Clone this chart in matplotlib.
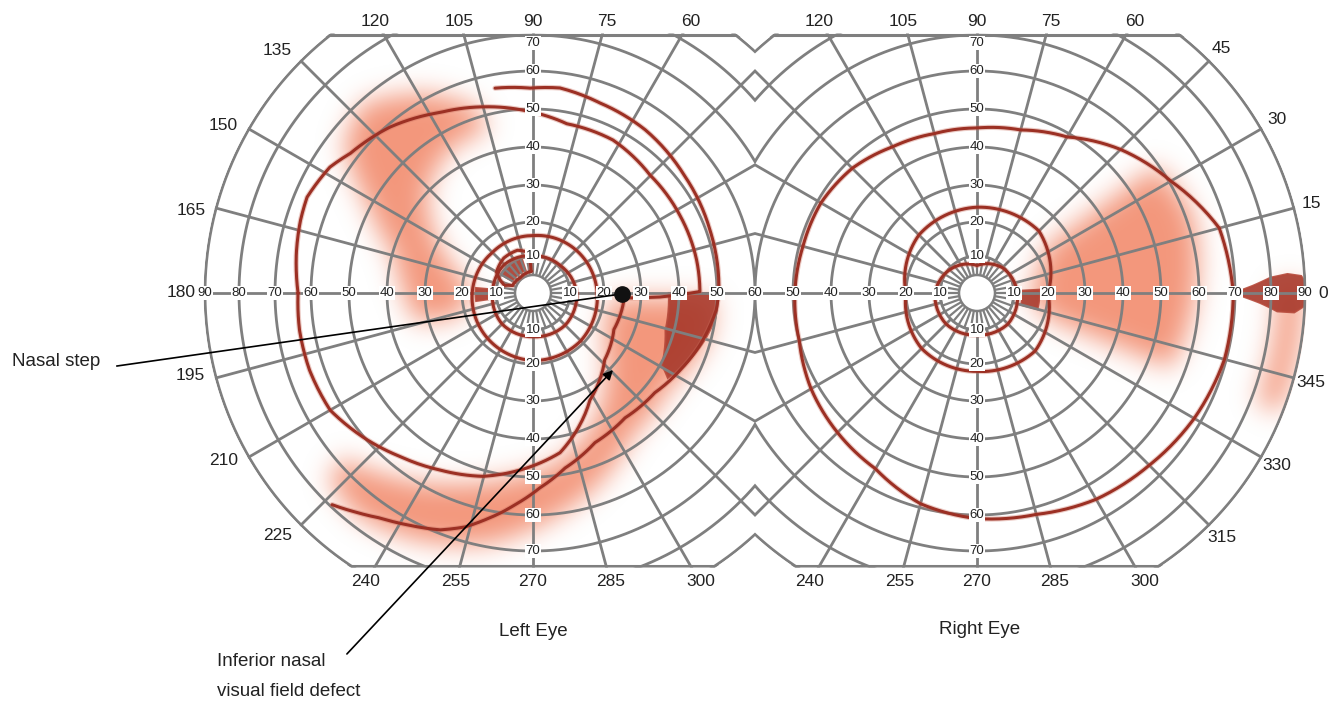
import numpy as np
import matplotlib.pyplot as plt
from matplotlib.path import Path
from matplotlib.patches import Polygon, Circle

plt.rcParams['font.family'] = ['Liberation Sans', 'DejaVu Sans']

# chart radial scale: eccentricity (deg) -> radius on the chart (px)
ECC = [0, 5, 10, 20, 30, 40, 50, 60, 70, 80, 90]
RAD = [0, 18, 37, 71, 108, 146, 184, 222, 258, 294, 328]

# ---- left eye isopters: (meridian deg, eccentricity deg)
left_outer_ang = [100.5, 90.8, 82.5, 70.6, 55.5, 37.8, 19.6, 1, -5.3, -17.3, -27.6, -39.3, -53.6,
                  -67.5, -79.6, -88, -95, -101, -106.2, -111.4, -118, -124.2, -129.1, -133.5]
left_outer_ecc = [56.4, 55.5, 56, 54.6, 53.7, 52, 51, 50.5, 50, 47.6, 45.3, 43, 42.4,
                  44.2, 48.4, 52.9, 57.6, 62, 66, 69, 71.4, 73.9, 76.7, 79.4]

left_mid_ang = [180, 170.4, 162.6, 157, 148.2, 142.6, 130.7, 117.2, 105, 91.9, 78.7, 62.4, 45.2, 28, 11.4, 0.5,
                -1.8, -3.1, -24.3, -43, -62, -80.4, -94.2, -105.3, -117.7, -129, -140.6, -150, -161, -171, -180]
left_mid_ecc = [63.6, 65, 66, 66.5, 64.7, 62.2, 59.2, 55, 52.3, 49.5, 47, 47, 45.3, 45.3, 45.5, 45.5,
                35, 25.5, 24.8, 27.3, 33.5, 44.2, 48.3, 51.6, 54.2, 57, 60.5, 63.4, 64, 64, 63.6]

left_r20_ang = [0, 45, 90, 135, 180, 225, 270, 315, 360]
left_r20_ecc = [18, 17, 16, 16, 17, 18, 19, 19, 18]
left_r10_ang = [0, 45, 90, 135, 180, 225, 270, 315, 360]
left_r10_ecc = [12, 10.5, 10, 11, 11, 12, 12, 12.5, 12]
left_loop_ang = [95, 95, 110, 130, 150, 165, 160, 130, 95]
left_loop_ecc = [6, 11, 12.5, 12.5, 11.5, 8, 6, 5.5, 6]

# ---- right eye isopters
right_outer_ang = [0, 15, 30, 45, 60, 75, 90, 105, 120, 135, 150, 165, 180, 195, 210, 225, 240, 255,
                   270, 285, 300, 315, 330, 345, 360]
right_outer_ecc = [69.5, 68, 60.5, 55, 49, 46, 45, 45, 46, 48, 49, 49, 49.5, 50, 52, 53.5, 55, 59,
                   61, 62, 64.5, 66, 68, 69.5, 69.5]
right_r20_ang = [0, 45, 90, 135, 180, 225, 270, 315, 360]
right_r20_ecc = [20, 24.5, 24, 23, 20, 22, 22, 23, 20]
right_r10_ang = [0, 45, 90, 135, 180, 225, 270, 315, 360]
right_r10_ecc = [11, 9.7, 7.5, 9.5, 11.5, 12, 11.5, 12, 11]

# ---- dense (dark) defects, polygons in (meridian, eccentricity)
left_blind = [(175, 12.5), (188, 12.5), (188, 16), (175, 16)]
left_central = [(108, 6.5), (150, 6.5), (150, 10), (108, 10)]
left_wedge = [(0, 37.3), (0, 50.5), (-8, 50), (-15.3, 48.4), (-25.3, 45.8), (-32.2, 43.5),
              (-29.2, 40.5), (-15.7, 37.8)]
right_blind = [(-15, 12.5), (3, 12.5), (3, 17.5), (-15, 17.5)]
right_wedge = [(0, 69.5), (1.5, 75), (3, 80), (3.5, 85), (3, 89), (1.5, 90.5), (-2, 90.5),
               (-3.5, 87), (-3.5, 82), (-2, 77), (-0.7, 72)]

# ---- relative (light) defects
left_soft = [
    [(105, 52), (118, 62), (132, 70), (142, 66), (152, 52), (165, 40), (182, 36), (195, 34), (200, 22),
     (185, 15), (165, 20), (150, 30), (135, 40), (118, 45), (105, 45)],
    [(-1, 22), (-1, 50), (-15, 50), (-35, 46), (-55, 48), (-70, 55), (-85, 62), (-100, 70), (-115, 75),
     (-128, 78), (-138, 76), (-140, 68), (-128, 62), (-112, 55), (-98, 50), (-82, 46), (-68, 40),
     (-55, 33), (-40, 25), (-20, 20)],
]
right_soft = [
    [(0, 12), (36, 22), (36, 60), (20, 63), (0, 60), (-22, 57), (-22, 20)],
    [(2, 81), (2, 92), (-22, 92), (-22, 81)],
]

W, H = 1329, 701
CY, LCX, RCX, MID, TOP, BOT = 293, 533, 977, 755, 35, 566
GRID = '#7f7f7f'
RED = '#9c3024'

fig = plt.figure(figsize=(W / 100, H / 100), dpi=100)
ax = fig.add_axes([0, 0, 1, 1])
ax.set_xlim(0, W)
ax.set_ylim(H, 0)
ax.axis('off')


def xy(cx, ang, ecc):
    a = np.radians(np.asarray(ang, float))
    r = np.interp(ecc, ECC, RAD)
    return cx + r * np.cos(a), CY - r * np.sin(a)


def dense(ang, ecc, n=16):
    # straight in (meridian, eccentricity) space, like a polar axes would draw it
    i = np.arange(len(ang))
    t = np.linspace(0, len(ang) - 1, (len(ang) - 1) * n + 1)
    return np.interp(t, i, ang), np.interp(t, i, ecc)


def eye_clip(cx, left, pad=1.5):
    t = np.linspace(0, 2 * np.pi, 1441)
    x = cx + (RAD[-1] + pad) * np.cos(t)
    y = CY - (RAD[-1] + pad) * np.sin(t)
    x = np.minimum(x, MID) if left else np.maximum(x, MID)
    y = np.clip(y, TOP - pad, BOT + pad)
    return Path(np.column_stack([x, y]))


clips = {LCX: eye_clip(LCX, True), RCX: eye_clip(RCX, False)}

# soft shading, blurred
yy, xx = np.mgrid[0:H, 0:W] + 0.5
pts = np.column_stack([xx.ravel(), yy.ravel()])
mask = np.zeros(H * W)
for cx, polys in ((LCX, left_soft), (RCX, right_soft)):
    for poly in polys:
        a, e = zip(*(poly + [poly[0]]))
        a, e = dense(a, e)
        px, py = xy(cx, a, e)
        mask = np.maximum(mask, Path(np.column_stack([px, py])).contains_points(pts))
mask = mask.reshape(H, W)
s = 14
k = np.arange(-3 * s, 3 * s + 1)
g = np.exp(-k ** 2 / (2.0 * s * s))
g /= g.sum()
mask = np.apply_along_axis(lambda m: np.convolve(m, g, 'same'), 0, mask)
mask = np.apply_along_axis(lambda m: np.convolve(m, g, 'same'), 1, mask)
rgba = np.zeros((H, W, 4))
rgba[..., 0] = 241 / 255
rgba[..., 1] = 132 / 255
rgba[..., 2] = 100 / 255
rgba[..., 3] = np.clip(mask, 0, 1) ** 1.3 * 0.85
for cx in (LCX, RCX):
    im = ax.imshow(rgba, extent=[0, W, H, 0], interpolation='bilinear', zorder=1)
    im.set_clip_path(clips[cx], ax.transData)

# dark defects
for cx, polys in ((LCX, [left_blind, left_central, left_wedge]), (RCX, [right_blind, right_wedge])):
    for poly in polys:
        a, e = zip(*(poly + [poly[0]]))
        a, e = dense(a, e, 6)
        px, py = xy(cx, a, e)
        p = Polygon(np.column_stack([px, py]), closed=True, fc='#a8392b', ec='#b5493a', lw=1.5,
                    alpha=0.9, zorder=2)
        ax.add_patch(p)
        p.set_clip_path(clips[cx], ax.transData)

# grid
for cx in (LCX, RCX):
    clip = clips[cx]
    t = np.linspace(0, 360, 721)
    for e in ECC[2:]:
        ln, = ax.plot(*xy(cx, t, np.full_like(t, e)), color=GRID, lw=2, zorder=3)
        ln.set_clip_path(clip, ax.transData)
    for a in range(0, 360, 15):
        ln, = ax.plot(*xy(cx, [a, a], [10, 90]), color=GRID, lw=2, zorder=3)
        ln.set_clip_path(clip, ax.transData)
    for a in np.arange(0, 360, 10):
        ax.plot(*xy(cx, [a, a], [5, 10]), color=GRID, lw=1.6, zorder=3)
    ax.add_patch(Circle((cx, CY), RAD[1], fc='white', ec=GRID, lw=1.8, zorder=3.5))
    for yb in (TOP, BOT):
        ln, = ax.plot([cx - 400, cx + 400], [yb, yb], color=GRID, lw=2.2, zorder=3)
        ln.set_clip_path(clip, ax.transData)

# isopters
curves = [(LCX, left_outer_ang, left_outer_ecc), (LCX, left_mid_ang, left_mid_ecc),
          (LCX, left_r20_ang, left_r20_ecc), (LCX, left_r10_ang, left_r10_ecc),
          (LCX, left_loop_ang, left_loop_ecc),
          (RCX, right_outer_ang, right_outer_ecc), (RCX, right_r20_ang, right_r20_ecc),
          (RCX, right_r10_ang, right_r10_ecc)]
for cx, a, e in curves:
    a, e = dense(a, e)
    px, py = xy(cx, a, e)
    ax.plot(px, py, color='#c86a5a', lw=3.8, alpha=0.35, zorder=4, solid_capstyle='round')
    ax.plot(px, py, color=RED, lw=2.2, zorder=4.1, solid_capstyle='round')

# radial labels
lab = dict(fontsize=9.5, color='#222222', ha='center', va='center', zorder=6,
           bbox=dict(boxstyle='square,pad=0.08', fc='white', ec='none'))
for cx, left in ((LCX, True), (RCX, False)):
    far = range(10, 100, 10)
    near = range(10, 60, 10)
    for e in (far if left else near):
        x, y = xy(cx, 180, e)
        ax.text(x, y, str(e), **lab)
    for e in (near if left else far):
        x, y = xy(cx, 0, e)
        ax.text(x, y, str(e), **lab)
    for e in range(10, 80, 10):
        x, y = xy(cx, 90, e)
        ax.text(x, max(y, TOP + 8), str(e), **lab)
        x, y = xy(cx, 270, e)
        ax.text(x, y, str(e), **lab)
ax.text(MID, CY, '60', **lab)

# meridian labels
ang_lab = dict(fontsize=12.5, color='#222222', ha='center', va='center')
for cx in (LCX, RCX):
    for a in (60, 75, 90, 105, 120):
        ax.text(cx + 274 / np.tan(np.radians(a)), 22, str(a), **ang_lab)
    for a in (240, 255, 270, 285, 300):
        ax.text(cx - 290 / np.tan(np.radians(a)), 582, str(a), **ang_lab)
for a in (135, 150, 165, 180, 195, 210, 225):
    sa = a + 1.5 * np.sign(180 - a)
    ax.text(LCX + 352 * np.cos(np.radians(sa)), CY - 352 * np.sin(np.radians(sa)), str(a), **ang_lab)
for a in (45, 30, 15, 0, -15, -30, -45):
    ax.text(RCX + 346 * np.cos(np.radians(a)), CY - 346 * np.sin(np.radians(a)), str(a % 360), **ang_lab)

ax.text(LCX, 632, 'Left Eye', fontsize=13.5, color='#222222', ha='center', va='center')
ax.text(980, 630, 'Right Eye', fontsize=13.5, color='#222222', ha='center', va='center')

# annotations
dx, dy = xy(LCX, -0.6, 24.8)
ax.plot([117, dx], [366, dy], color='black', lw=1.2, zorder=7)
ax.plot(dx, dy, 'o', color='#111111', ms=11, zorder=8)
ax.text(12, 362, 'Nasal step', fontsize=13.5, color='#222222', ha='left', va='center')

tx, ty = xy(LCX, -42.5, 30.8)
ax.annotate('', xy=(tx, ty), xytext=(345, 656),
            arrowprops=dict(arrowstyle='-|>', color='black', lw=1.2, mutation_scale=14), zorder=7)
ax.text(217, 661, 'Inferior nasal', fontsize=13.5, color='#222222', ha='left', va='center')
ax.text(217, 691, 'visual field defect', fontsize=13.5, color='#222222', ha='left', va='center')

fig.savefig('out.png', dpi=100)
